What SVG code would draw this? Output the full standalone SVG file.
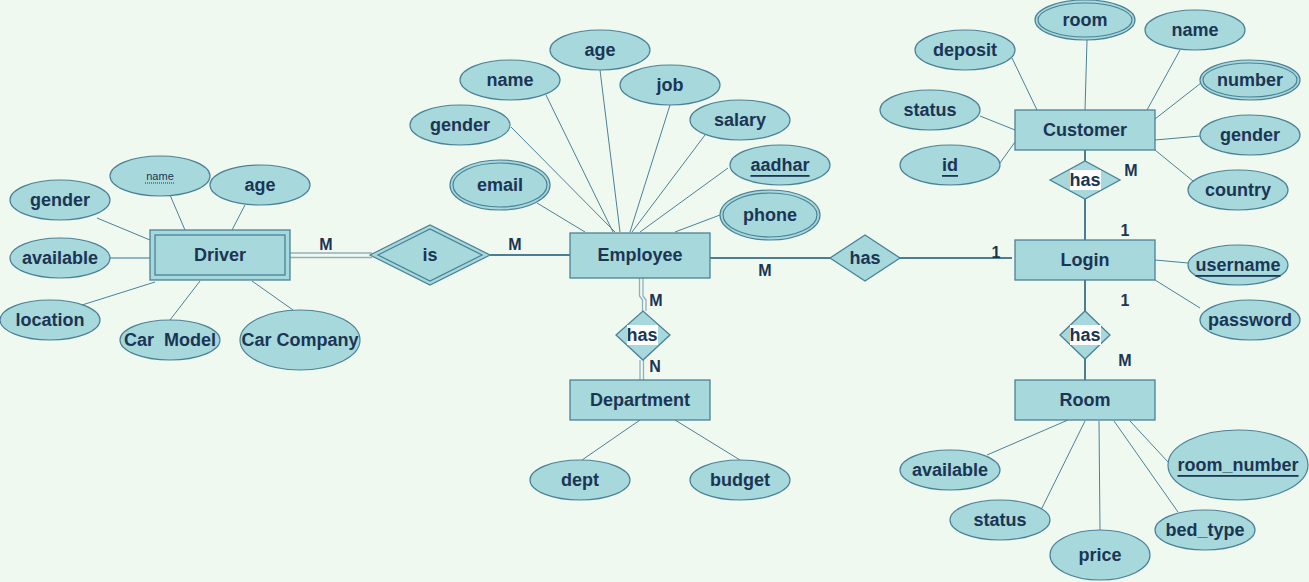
<svg xmlns="http://www.w3.org/2000/svg" width="1309" height="582" viewBox="0 0 1309 582">
<style>
.bg{fill:#f0f9ef}
.ent{fill:#a6d8dc;stroke:#4b8297;stroke-width:1.3}
.attr{fill:#a6d8dc;stroke:#4b8297;stroke-width:1.2}
.rel{fill:#a6d8dc;stroke:#4b8297;stroke-width:1.3}
.ln{stroke:#4b8297;stroke-width:1;fill:none}
.rl{stroke:#4b7d94;stroke-width:2;fill:none}
.dl{stroke:#8fb0bd;stroke-width:1.3;fill:none}
text{font-family:"Liberation Sans",Arial,sans-serif;font-weight:bold;fill:#1b3554;text-anchor:middle;dominant-baseline:central;font-size:18px}
.lbl{font-size:16px}
.u{text-decoration:underline}
.hb{fill:#ffffff}
</style>
<rect class="bg" x="0" y="0" width="1309" height="582"/>

<g id="connectors">
  <line class="ln" x1="97" y1="218" x2="150" y2="240"/>
  <line class="ln" x1="170" y1="195" x2="185" y2="230"/>
  <line class="ln" x1="245" y1="205" x2="232" y2="230"/>
  <line class="ln" x1="110" y1="258" x2="150" y2="258" style="stroke-width:2;stroke:#8fb6c2"/>
  <line class="ln" x1="82" y1="305" x2="155" y2="282"/>
  <line class="ln" x1="170" y1="320" x2="200" y2="281"/>
  <line class="ln" x1="293" y1="310" x2="252" y2="281"/>
  <line class="dl" x1="290" y1="253" x2="372" y2="253"/>
  <line class="dl" x1="290" y1="257.5" x2="372" y2="257.5"/>
  <line class="rl" x1="490" y1="255" x2="570" y2="255"/>
  <line class="ln" x1="511" y1="127" x2="615" y2="232"/>
  <line class="ln" x1="546" y1="95" x2="613" y2="232"/>
  <line class="ln" x1="600" y1="70" x2="620" y2="232"/>
  <line class="ln" x1="670" y1="105" x2="630" y2="232"/>
  <line class="ln" x1="705" y1="135" x2="632" y2="232"/>
  <line class="ln" x1="728" y1="168" x2="640" y2="232"/>
  <line class="ln" x1="720" y1="215" x2="675" y2="232"/>
  <line class="ln" x1="537" y1="203" x2="585" y2="232"/>
  <line class="rl" x1="710" y1="258" x2="832" y2="258"/>
  <line class="rl" x1="898" y1="258" x2="1012" y2="258"/>
  <polyline class="dl" points="639.5,278 639.5,296 642.5,300 642.5,311"/>
  <polyline class="dl" points="643,278 643,296 646,300 646,311"/>
  <line class="dl" x1="640" y1="360" x2="640" y2="380"/>
  <line class="dl" x1="643.5" y1="360" x2="643.5" y2="380"/>
  <line class="ln" x1="582" y1="460" x2="640" y2="420"/>
  <line class="ln" x1="740" y1="460" x2="675" y2="420"/>
  <line class="ln" x1="1087" y1="40" x2="1085" y2="110"/>
  <line class="ln" x1="1180" y1="50" x2="1147" y2="110"/>
  <line class="ln" x1="1012" y1="58" x2="1037" y2="110"/>
  <line class="ln" x1="1201" y1="83" x2="1155" y2="119"/>
  <line class="ln" x1="980" y1="116" x2="1015" y2="130"/>
  <line class="ln" x1="1200" y1="136" x2="1155" y2="140"/>
  <line class="ln" x1="1000" y1="163" x2="1015" y2="142"/>
  <line class="ln" x1="1193" y1="181" x2="1155" y2="150"/>
  <line class="rl" x1="1085" y1="150" x2="1085" y2="161"/>
  <line class="rl" x1="1085" y1="199" x2="1085" y2="240"/>
  <line class="ln" x1="1188" y1="263" x2="1155" y2="260"/>
  <line class="ln" x1="1200" y1="308" x2="1155" y2="280"/>
  <line class="rl" x1="1085" y1="280" x2="1085" y2="311"/>
  <line class="rl" x1="1085" y1="359" x2="1085" y2="380"/>
  <line class="ln" x1="987" y1="455" x2="1068" y2="420"/>
  <line class="ln" x1="1042" y1="508" x2="1085" y2="421"/>
  <line class="ln" x1="1100" y1="530" x2="1099" y2="421"/>
  <line class="ln" x1="1178" y1="512" x2="1114" y2="421"/>
  <line class="ln" x1="1168" y1="462" x2="1130" y2="421"/>
</g>

<g id="cardinalities">
  <text class="lbl" x="326" y="244">M</text>
  <text class="lbl" x="515" y="244">M</text>
  <text class="lbl" x="765" y="270">M</text>
  <text class="lbl" x="996" y="252">1</text>
  <text class="lbl" x="656" y="300">M</text>
  <text class="lbl" x="655" y="366">N</text>
  <text class="lbl" x="1131" y="170">M</text>
  <text class="lbl" x="1125" y="230">1</text>
  <text class="lbl" x="1125" y="300">1</text>
  <text class="lbl" x="1125" y="360">M</text>
</g>

<g id="driver">
  <rect class="ent" x="150" y="230" width="140" height="50"/>
  <rect class="ent" x="155" y="235" width="130" height="40"/>
  <text x="220" y="255">Driver</text>
</g>
<g id="employee">
  <rect class="ent" x="570" y="233" width="140" height="45"/>
  <text x="640" y="255">Employee</text>
</g>
<g id="department">
  <rect class="ent" x="570" y="380" width="140" height="40"/>
  <text x="640" y="400">Department</text>
</g>
<g id="customer">
  <rect class="ent" x="1015" y="110" width="140" height="40"/>
  <text x="1085" y="130">Customer</text>
</g>
<g id="login">
  <rect class="ent" x="1015" y="240" width="140" height="40"/>
  <text x="1085" y="260">Login</text>
</g>
<g id="room">
  <rect class="ent" x="1015" y="380" width="140" height="40"/>
  <text x="1085" y="400">Room</text>
</g>

<g id="rel-is">
  <polygon class="rel" points="370,255 430,225 490,255 430,285"/>
  <polygon class="rel" points="378,255 430,229 482,255 430,281"/>
  <text x="430" y="255">is</text>
</g>
<g id="rel-emp-login">
  <polygon class="rel" points="830,258 865,235 900,258 865,281"/>
  <text x="865" y="258">has</text>
</g>
<g id="rel-emp-dept">
  <polygon class="rel" points="616,335 643,311 670,335 643,360"/>
  <rect class="hb" x="627" y="325" width="31" height="20"/>
  <text x="642" y="335">has</text>
</g>
<g id="rel-cust-login">
  <polygon class="rel" points="1050,180 1085,161 1120,180 1085,199"/>
  <rect class="hb" x="1070" y="170" width="31" height="20"/>
  <text x="1085" y="180">has</text>
</g>
<g id="rel-login-room">
  <polygon class="rel" points="1060,335 1085,311 1110,335 1085,359"/>
  <rect class="hb" x="1070" y="325" width="31" height="20"/>
  <text x="1085" y="335">has</text>
</g>

<g id="d-gender"><ellipse class="attr" cx="60" cy="200" rx="50" ry="20"/><text x="60" y="200">gender</text></g>
<g id="d-name"><ellipse class="attr" cx="160" cy="176" rx="50" ry="20"/><text x="160" y="176" style="font-size:11px;font-weight:normal">name</text><line x1="145" y1="183" x2="175" y2="183" stroke="#1b3554" stroke-width="1" stroke-dasharray="1,1"/></g>
<g id="d-age"><ellipse class="attr" cx="260" cy="185" rx="50" ry="20"/><text x="260" y="185">age</text></g>
<g id="d-available"><ellipse class="attr" cx="60" cy="258" rx="50" ry="20"/><text x="60" y="258">available</text></g>
<g id="d-location"><ellipse class="attr" cx="50" cy="320" rx="50" ry="20"/><text x="50" y="320">location</text></g>
<g id="d-carmodel"><ellipse class="attr" cx="170" cy="340" rx="50" ry="20"/><text x="170" y="340" xml:space="preserve">Car  Model</text></g>
<g id="d-carcompany"><ellipse class="attr" cx="300" cy="340" rx="60" ry="30"/><text x="300" y="340">Car Company</text></g>

<g id="e-gender"><ellipse class="attr" cx="460" cy="125" rx="50" ry="20"/><text x="460" y="125">gender</text></g>
<g id="e-name"><ellipse class="attr" cx="510" cy="80" rx="50" ry="20"/><text x="510" y="80">name</text></g>
<g id="e-age"><ellipse class="attr" cx="600" cy="50" rx="50" ry="20"/><text x="600" y="50">age</text></g>
<g id="e-job"><ellipse class="attr" cx="670" cy="85" rx="50" ry="20"/><text x="670" y="85">job</text></g>
<g id="e-salary"><ellipse class="attr" cx="740" cy="120" rx="50" ry="20"/><text x="740" y="120">salary</text></g>
<g id="e-aadhar"><ellipse class="attr" cx="780" cy="165" rx="50" ry="20"/><text class="u" x="780" y="165">aadhar</text></g>
<g id="e-phone"><ellipse class="attr" cx="770" cy="215" rx="50" ry="25"/><ellipse class="attr" cx="770" cy="215" rx="47" ry="22"/><text x="770" y="215">phone</text></g>
<g id="e-email"><ellipse class="attr" cx="500" cy="185" rx="50" ry="25"/><ellipse class="attr" cx="500" cy="185" rx="47" ry="22"/><text x="500" y="185">email</text></g>

<g id="dp-dept"><ellipse class="attr" cx="580" cy="480" rx="50" ry="20"/><text x="580" y="480">dept</text></g>
<g id="dp-budget"><ellipse class="attr" cx="740" cy="480" rx="50" ry="20"/><text x="740" y="480">budget</text></g>

<g id="c-room"><ellipse class="attr" cx="1085" cy="20" rx="50" ry="20"/><ellipse class="attr" cx="1085" cy="20" rx="47" ry="17"/><text x="1085" y="20">room</text></g>
<g id="c-name"><ellipse class="attr" cx="1195" cy="30" rx="50" ry="20"/><text x="1195" y="30">name</text></g>
<g id="c-deposit"><ellipse class="attr" cx="965" cy="50" rx="50" ry="20"/><text x="965" y="50">deposit</text></g>
<g id="c-number"><ellipse class="attr" cx="1250" cy="80" rx="50" ry="20"/><ellipse class="attr" cx="1250" cy="80" rx="47" ry="17"/><text x="1250" y="80">number</text></g>
<g id="c-status"><ellipse class="attr" cx="930" cy="110" rx="50" ry="20"/><text x="930" y="110">status</text></g>
<g id="c-gender"><ellipse class="attr" cx="1250" cy="135" rx="50" ry="20"/><text x="1250" y="135">gender</text></g>
<g id="c-id"><ellipse class="attr" cx="950" cy="165" rx="50" ry="20"/><text class="u" x="950" y="165">id</text></g>
<g id="c-country"><ellipse class="attr" cx="1238" cy="190" rx="50" ry="20"/><text x="1238" y="190">country</text></g>

<g id="l-username"><ellipse class="attr" cx="1238" cy="265" rx="50" ry="20"/><text class="u" x="1238" y="265">username</text></g>
<g id="l-password"><ellipse class="attr" cx="1250" cy="320" rx="50" ry="20"/><text x="1250" y="320">password</text></g>

<g id="r-available"><ellipse class="attr" cx="950" cy="470" rx="50" ry="20"/><text x="950" y="470">available</text></g>
<g id="r-status"><ellipse class="attr" cx="1000" cy="520" rx="50" ry="20"/><text x="1000" y="520">status</text></g>
<g id="r-price"><ellipse class="attr" cx="1100" cy="555" rx="50" ry="25"/><text x="1100" y="555">price</text></g>
<g id="r-bedtype"><ellipse class="attr" cx="1205" cy="530" rx="50" ry="20"/><text x="1205" y="530">bed_type</text></g>
<g id="r-roomnumber"><ellipse class="attr" cx="1238" cy="465" rx="70" ry="35"/><text class="u" x="1238" y="465">room_number</text></g>
</svg>
